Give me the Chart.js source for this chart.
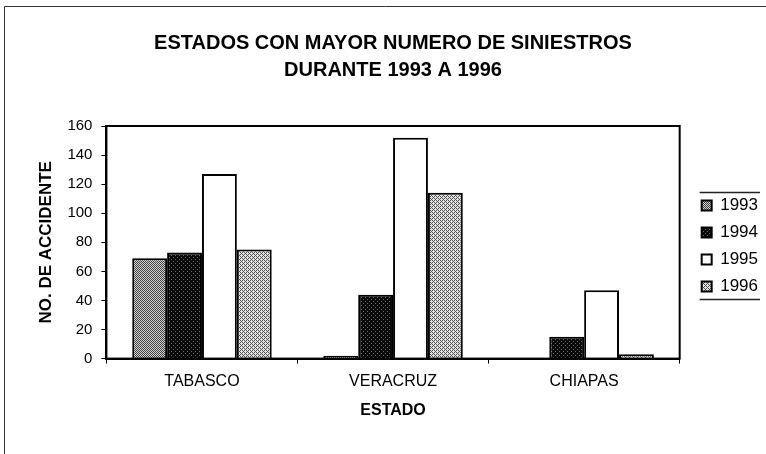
<!DOCTYPE html>
<html><head><meta charset="utf-8">
<script src="https://cdn.jsdelivr.net/npm/chart.js@4"></script>
<style>html,body{margin:0;padding:0;background:#fff}</style>
</head><body>
<canvas id="c" width="766" height="454"></canvas>
<script>
const categories = ['TABASCO', 'VERACRUZ', 'CHIAPAS'];
const seriesLabels = ['1993', '1994', '1995', '1996'];
const v1993 = [69, 2, 0];
const v1994 = [73, 44, 15];
const v1995 = [127, 152, 47];
const v1996 = [75, 114, 3];
const yMin = 0, yMax = 160, yStep = 20;
const titleLines = ['ESTADOS CON MAYOR NUMERO DE SINIESTROS', 'DURANTE 1993 A 1996'];
const yTitle = 'NO. DE ACCIDENTE';
const xTitle = 'ESTADO';

const FONT = '"Liberation Sans", Arial, sans-serif';

function makePattern(bg, fg, mask) {
  const n = mask.length;
  const c = document.createElement('canvas');
  c.width = n; c.height = n;
  const x = c.getContext('2d');
  x.fillStyle = bg; x.fillRect(0, 0, n, n);
  x.fillStyle = fg;
  for (let r = 0; r < n; r++) for (let k = 0; k < n; k++) if (mask[r][k] === '1') x.fillRect(k, r, 1, 1);
  return x.createPattern(c, 'repeat');
}
const p1993 = makePattern('#d0d0d0', '#444444', ['1010', '0101', '1010', '0101']);
const p1994 = makePattern('#6a6a6a', '#0a0a0a', ['1111', '1011', '1111', '1110']);
const p1996 = makePattern('#e0e0e0', '#555555', ['1010', '0100', '1010', '0001']);

const fills = [p1993, p1994, '#ffffff', p1996];
const values = [v1993, v1994, v1995, v1996];

// legend placement offsets (layout only)
const LEGEND_DX = 12, LEGEND_DY = 25;

const framePlugin = {
  id: 'framePlugin',
  afterLayout(chart) {
    const lg = chart.legend;
    if (!lg) return;
    lg.left += LEGEND_DX; lg.right += LEGEND_DX;
    lg.top += LEGEND_DY; lg.bottom += LEGEND_DY;
    (lg.legendHitBoxes || []).forEach(h => { h.left += LEGEND_DX; h.top += LEGEND_DY; });
  },
  afterDatasetsDraw(chart) {
    const { ctx, chartArea: a } = chart;
    ctx.save();
    ctx.strokeStyle = '#000';
    ctx.lineWidth = 2;
    ctx.strokeRect(a.left, a.top, a.right - a.left, a.bottom - a.top);
    ctx.restore();
  },
  afterDraw(chart) {
    const { ctx } = chart;
    const lg = chart.legend;
    ctx.save();
    ctx.strokeStyle = '#222';
    ctx.lineWidth = 1.5;
    if (lg && lg.legendHitBoxes && lg.legendHitBoxes.length) {
      const hb = lg.legendHitBoxes;
      const t = Math.round(hb[0].top - 5) + 0.5;
      const last = hb[hb.length - 1];
      const b = Math.round(last.top + last.height + 4) + 0.5;
      const l = lg.left + 8;
      const r = chart.width - 6;
      ctx.beginPath();
      ctx.moveTo(l, t); ctx.lineTo(r, t);
      ctx.moveTo(l, b); ctx.lineTo(r, b);
      ctx.stroke();
    }
    ctx.strokeStyle = '#333';
    ctx.lineWidth = 1;
    ctx.beginPath();
    ctx.moveTo(4.5, chart.height);
    ctx.lineTo(4.5, 6.5);
    ctx.lineTo(chart.width, 6.5);
    ctx.stroke();
    ctx.restore();
  }
};

new Chart(document.getElementById('c'), {
  type: 'bar',
  data: {
    labels: categories,
    datasets: seriesLabels.map((s, i) => ({
      label: s,
      data: values[i],
      backgroundColor: fills[i],
      borderColor: '#000',
      borderWidth: 2,
      borderSkipped: 'bottom',
      barPercentage: 1.0,
      categoryPercentage: 0.73
    }))
  },
  options: {
    responsive: false,
    animation: false,
    devicePixelRatio: 1,
    layout: { padding: { left: 30, right: 10, top: 18, bottom: 30 } },
    plugins: {
      title: {
        display: true,
        text: titleLines,
        color: '#000',
        font: { family: FONT, size: 20, weight: 'bold', lineHeight: 1.35 },
        padding: { top: 11.5, bottom: 42.5 }
      },
      legend: {
        position: 'right',
        labels: {
          color: '#000',
          font: { family: FONT, size: 17 },
          boxWidth: 10,
          boxHeight: 10,
          padding: 10
        }
      },
      tooltip: { enabled: false }
    },
    scales: {
      x: {
        grid: { display: true, offset: true, drawOnChartArea: false, drawTicks: true, tickLength: 5, color: '#000' },
        border: { display: true, color: '#000', width: 2 },
        ticks: { color: '#000', font: { family: FONT, size: 16 }, padding: 8 },
        title: { display: true, text: xTitle, color: '#000', font: { family: FONT, size: 16, weight: 'bold' }, padding: { top: 2, bottom: 4 } }
      },
      y: {
        min: yMin, max: yMax,
        grid: { display: true, drawOnChartArea: false, drawTicks: true, tickLength: 5, color: '#000' },
        border: { display: true, color: '#000', width: 2 },
        ticks: { stepSize: yStep, color: '#000', font: { family: FONT, size: 15 }, padding: 9 },
        title: { display: true, text: yTitle, color: '#000', font: { family: FONT, size: 17, weight: 'bold', lineHeight: 1.2 }, padding: { top: 6, bottom: 2 } }
      }
    }
  },
  plugins: [framePlugin]
});
</script>
</body></html>
